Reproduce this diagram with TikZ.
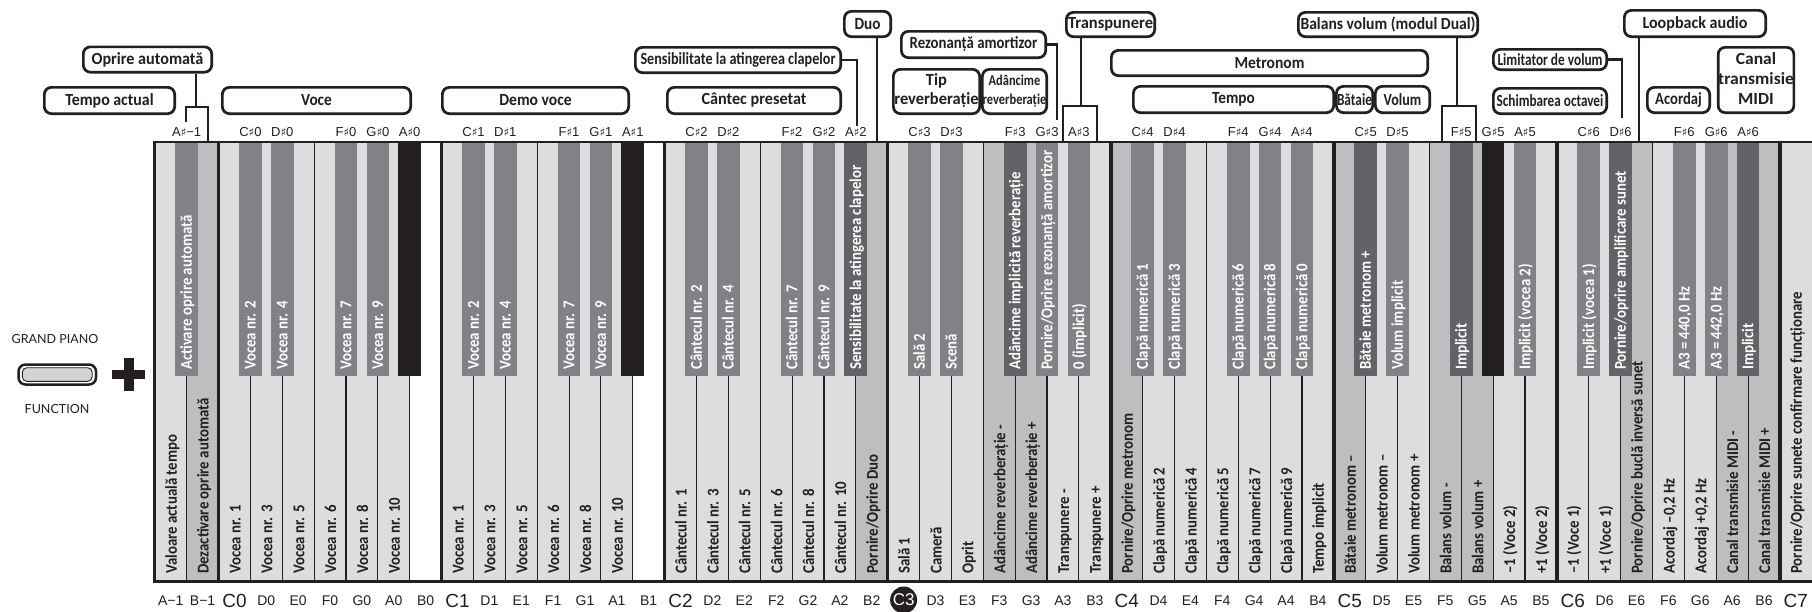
\documentclass[tikz,border=0pt]{standalone}
\usepackage{fontspec}
\usepackage{graphicx}
\setmainfont{Liberation Sans}
\newfontfamily\cf{Carlito}[FakeStretch=0.9]
\newfontfamily\symf{DejaVu Sans}
\newfontfamily\gpf{Lato}
\definecolor{wl}{HTML}{DCDDDE}
\definecolor{wm}{HTML}{BCBEC0}
\definecolor{bm}{HTML}{808285}
\definecolor{bd}{HTML}{626366}
\definecolor{bk}{HTML}{231F20}
\definecolor{btn}{HTML}{D1D3D4}
\newcommand\shp{{\symf\fontsize{11.5}{11.5}\selectfont ♯}}
\newcommand\fw[2]{\resizebox{#1pt}{\height}{#2}}
\newcommand\twol[2]{\begin{tabular}{@{}c@{}}#1\\#2\end{tabular}}
\def\kxo{154.8}
\def\kwd{31.865}
\newcommand\wfill[2]{\fill[#2] ({\kxo+#1*\kwd},142) rectangle ({\kxo+(#1+1)*\kwd},581.5);}
\newcommand\wkey[3]{\wfill{#1}{#2}\node[wtxt] (wt#1) at ({\kxo+(#1+0.5)*\kwd+0.8},574) {#3};}
\newcommand\bfill[2]{\fill[#2] ({\kxo+(#1+1)*\kwd-11.35},142) rectangle ({\kxo+(#1+1)*\kwd+11.35},376);}
\newcommand\bkey[3]{\bfill{#1}{#2}\node[btxt] (bt#1) at ({\kxo+(#1+1)*\kwd},370) {#3};}
\begin{document}
\begin{tikzpicture}[x=1pt,y=-1pt,
 lbl/.style={draw=bk, line width=2.7pt, rounded corners=7pt, inner sep=0pt, align=center, font=\cf\bfseries\fontsize{17}{19}\selectfont, text=bk},
 wtxt/.style={rotate=90, anchor=west, inner sep=0pt, text height=10.6pt, text depth=0pt, font=\cf\bfseries\fontsize{16.5}{16.5}\selectfont, text=bk},
 btxt/.style={wtxt, text=white},
 nlab/.style={anchor=base, inner sep=0pt, font=\fontsize{13}{13}\selectfont, text=bk},
 blab/.style={anchor=base, inner sep=0pt, font=\fontsize{14}{14}\selectfont, text=bk},
 clab/.style={anchor=base, inner sep=0pt, font=\fontsize{19}{19}\selectfont, text=bk},
 conn/.style={line width=2.2pt, draw=bk},
 sep/.style={line width=1.1pt, draw=bk},
 gpl/.style={inner sep=0pt, font=\gpf\fontsize{12.5}{12.5}\selectfont, text=bk}]
\useasboundingbox (0,0) rectangle (1812,611);
\fill[white] (0,0) rectangle (1812,611);
% white keys
\wkey{0}{wl}{Valoare actuală tempo}
\wkey{1}{wm}{Dezactivare oprire automată}
\wkey{2}{wl}{Vocea nr. 1}
\wkey{3}{wl}{Vocea nr. 3}
\wkey{4}{wl}{Vocea nr. 5}
\wkey{5}{wl}{Vocea nr. 6}
\wkey{6}{wl}{Vocea nr. 8}
\wkey{7}{wl}{Vocea nr. 10}
\wfill{8}{white}
\wkey{9}{wl}{Vocea nr. 1}
\wkey{10}{wl}{Vocea nr. 3}
\wkey{11}{wl}{Vocea nr. 5}
\wkey{12}{wl}{Vocea nr. 6}
\wkey{13}{wl}{Vocea nr. 8}
\wkey{14}{wl}{Vocea nr. 10}
\wfill{15}{white}
\wkey{16}{wl}{Cântecul nr. 1}
\wkey{17}{wl}{Cântecul nr. 3}
\wkey{18}{wl}{Cântecul nr. 5}
\wkey{19}{wl}{Cântecul nr. 6}
\wkey{20}{wl}{Cântecul nr. 8}
\wkey{21}{wl}{Cântecul nr. 10}
\wkey{22}{wm}{Pornire/Oprire Duo}
\wkey{23}{wl}{Sală 1}
\wkey{24}{wl}{Cameră}
\wkey{25}{wl}{Oprit}
\wkey{26}{wm}{Adâncime reverberație -}
\wkey{27}{wm}{Adâncime reverberație +}
\wkey{28}{wl}{Transpunere -}
\wkey{29}{wl}{Transpunere +}
\wkey{30}{wm}{Pornire/Oprire metronom}
\wkey{31}{wl}{Clapă numerică 2}
\wkey{32}{wl}{Clapă numerică 4}
\wkey{33}{wl}{Clapă numerică 5}
\wkey{34}{wl}{Clapă numerică 7}
\wkey{35}{wl}{Clapă numerică 9}
\wkey{36}{wl}{Tempo implicit}
\wkey{37}{wm}{Bătaie metronom –}
\wkey{38}{wl}{Volum metronom –}
\wkey{39}{wl}{Volum metronom +}
\wkey{40}{wm}{Balans volum -}
\wkey{41}{wm}{Balans volum +}
\wkey{42}{wl}{–1 (Voce 2)}
\wkey{43}{wl}{+1 (Voce 2)}
\wkey{44}{wl}{–1 (Voce 1)}
\wkey{45}{wl}{+1 (Voce 1)}
\wkey{46}{wm}{Pornire/Oprire buclă inversă sunet}
\wkey{47}{wl}{Acordaj –0,2 Hz}
\wkey{48}{wl}{Acordaj +0,2 Hz}
\wkey{49}{wm}{Canal transmisie MIDI -}
\wkey{50}{wm}{Canal transmisie MIDI +}
\wkey{51}{wl}{Pornire/Oprire sunete confirmare funcționare}
% separators
\foreach \k in {1,...,51} \draw[sep] ({\kxo+\k*\kwd},376) -- ({\kxo+\k*\kwd},581.5);
\foreach \k in {5,12,19,26,33,40,47} \draw[sep] ({\kxo+\k*\kwd},142) -- ({\kxo+\k*\kwd},376);
% black keys
\bkey{0}{bm}{Activare oprire automată}
\bkey{2}{bm}{Vocea nr. 2}
\bkey{3}{bm}{Vocea nr. 4}
\bkey{5}{bm}{Vocea nr. 7}
\bkey{6}{bm}{Vocea nr. 9}
\bfill{7}{bk}
\bkey{9}{bm}{Vocea nr. 2}
\bkey{10}{bm}{Vocea nr. 4}
\bkey{12}{bm}{Vocea nr. 7}
\bkey{13}{bm}{Vocea nr. 9}
\bfill{14}{bk}
\bkey{16}{bm}{Cântecul nr. 2}
\bkey{17}{bm}{Cântecul nr. 4}
\bkey{19}{bm}{Cântecul nr. 7}
\bkey{20}{bm}{Cântecul nr. 9}
\bkey{21}{bd}{Sensibilitate la atingerea clapelor}
\bkey{23}{bm}{Sală 2}
\bkey{24}{bm}{Scenă}
\bkey{26}{bd}{Adâncime implicită reverberație}
\bkey{27}{bm}{Pornire/Oprire rezonanță amortizor}
\bkey{28}{bm}{0 (implicit)}
\bkey{30}{bm}{Clapă numerică 1}
\bkey{31}{bm}{Clapă numerică 3}
\bkey{33}{bm}{Clapă numerică 6}
\bkey{34}{bm}{Clapă numerică 8}
\bkey{35}{bm}{Clapă numerică 0}
\bkey{37}{bd}{Bătaie metronom +}
\bkey{38}{bm}{Volum implicit}
\bkey{40}{bd}{Implicit}
\bfill{41}{bk}
\bkey{42}{bm}{Implicit (vocea 2)}
\bkey{44}{bm}{Implicit (vocea 1)}
\bkey{45}{bd}{Pornire/oprire amplificare sunet}
\bkey{47}{bm}{A3 = 440,0 Hz}
\bkey{48}{bm}{A3 = 442,0 Hz}
\bkey{49}{bd}{Implicit}
% octave lines and border
\foreach \k in {2,9,16,23,30,37,44,51} \draw[line width=3.5pt, bk] ({\kxo+\k*\kwd},142) -- ({\kxo+\k*\kwd},581.5);
\draw[line width=1.5pt, bk] (\kxo,142) -- (1812,142);
\draw[line width=2.2pt, bk] (\kxo,581.5) -- (1812,581.5);
\draw[line width=3pt, bk] (\kxo,141.2) -- (\kxo,582.6);
% note labels above
\node[nlab] (tAm1) at ({\kxo+1*\kwd},136) {A\shp−1};
\foreach \oc in {0,...,6}{\foreach \d/\n in {0/C,1/D,3/F,4/G,5/A}{\node[nlab] (t\n\oc) at ({\kxo+(3+7*\oc+\d)*\kwd},136) {\n\shp\oc};}}
% note labels below
\node[blab] (bAm1) at ({\kxo+0.5*\kwd},605) {A−1};
\node[blab] (bBm1) at ({\kxo+1.5*\kwd},605) {B−1};
\foreach \oc in {0,...,6}{\foreach \d/\n in {1/D,2/E,3/F,4/G,5/A,6/B}{\node[blab] (b\n\oc) at ({\kxo+(2.5+7*\oc+\d)*\kwd},605) {\n\oc};}}
\foreach \oc in {0,1,2,4,5,6}{\node[clab] (bC\oc) at ({\kxo+(2.5+7*\oc)*\kwd},607.5) {C\oc};}
\node[clab] (bC7) at ({\kxo+51.5*\kwd},607.5) {C7};
\node[circle, fill=bk, text=white, minimum size=27pt, inner sep=0pt, font=\fontsize{17}{17}\selectfont] (bC3) at ({\kxo+23.5*\kwd},600) {C3};
% left: button
\node[gpl] (gp) at (55,339.5) {GRAND PIANO};
\node[gpl] (fn) at (57,409.5) {FUNCTION};
\draw[line width=2.5pt, draw=bk, fill=white, rounded corners=7pt] (18.5,364.5) rectangle (96,384.5);
\draw[line width=0.9pt, draw=bk, fill=btn, rounded corners=4.5pt] (22.3,367.7) rectangle (92.2,381.3);
\fill[bk] (112.3,369.8) rectangle (145,379.2);
\fill[bk] (124,357.7) rectangle (133.5,391);
% label boxes
\node[lbl, minimum width=128.3pt, minimum height=25.3pt] (oa) at (147.5,59.5) {\fw{111.7}{Oprire automată}};
\node[lbl, minimum width=130.3pt, minimum height=26.3pt] (ta) at (109.5,100.5) {\fw{88.4}{Tempo actual}};
\node[lbl, minimum width=188.3pt, minimum height=26.3pt] (vo) at (316.5,100.5) {\fw{30.7}{Voce}};
\node[lbl, minimum width=186.3pt, minimum height=26.3pt] (dv) at (535.5,100.5) {\fw{72.3}{Demo voce}};
\node[lbl, minimum width=173.3pt, minimum height=26.3pt] (cp) at (754,100.5) {\fw{105}{Cântec presetat}};
\node[lbl, minimum width=205.3pt, minimum height=25.3pt] (se) at (738,60) {\fw{195}{Sensibilitate la atingerea clapelor}};
\node[lbl, minimum width=46.3pt, minimum height=25.3pt] (du) at (867.5,24) {\fw{26}{Duo}};
\node[lbl, minimum width=144.3pt, minimum height=26.3pt] (rz) at (973.5,44.5) {\fw{127.7}{Rezonanță amortizor}};
\node[lbl, minimum width=86.3pt, minimum height=44.3pt] (tr1) at (936.5,91.5) {\fw{84.3}{\twol{Tip}{reverberație}}};
\node[lbl, minimum width=64.3pt, minimum height=44.3pt, font=\cf\bfseries\fontsize{15}{19}\selectfont] (ar) at (1014.5,91.5) {\fw{63.7}{\twol{Adâncime}{reverberație}}};
\node[lbl, minimum width=88.3pt, minimum height=24.3pt] (tp) at (1110.5,24.5) {\fw{85}{Transpunere}};
\node[lbl, minimum width=316.3pt, minimum height=25.3pt] (mt) at (1269.5,63) {\fw{70}{Metronom}};
\node[lbl, minimum width=200.3pt, minimum height=26.3pt] (te) at (1233.5,99.5) {\fw{42.7}{Tempo}};
\node[lbl, minimum width=36.3pt, minimum height=26.3pt] (bt) at (1354.5,99.5) {\fw{35}{Bătaie}};
\node[lbl, minimum width=54.3pt, minimum height=26.3pt] (vl) at (1402.5,99.5) {\fw{37.7}{Volum}};
\node[lbl, minimum width=179.3pt, minimum height=24.3pt] (ba) at (1388,24.5) {\fw{175}{Balans volum (modul Dual)}};
\node[lbl, minimum width=113.3pt, minimum height=20.3pt] (li) at (1550,59.5) {\fw{105}{Limitator de volum}};
\node[lbl, minimum width=113.3pt, minimum height=25.3pt] (so) at (1550,101) {\fw{106.7}{Schimbarea octavei}};
\node[lbl, minimum width=141.3pt, minimum height=26.3pt] (lb) at (1695,23.5) {\fw{105}{Loopback audio}};
\node[lbl, minimum width=62.3pt, minimum height=25.3pt] (ac) at (1678.5,100) {\fw{46.7}{Acordaj}};
\node[lbl, minimum width=73.3pt, minimum height=65.3pt, font=\cf\bfseries\fontsize{17}{20}\selectfont] (cm) at (1756,80) {\fw{75.7}{\begin{tabular}{@{}c@{}}Canal\\transmisie\\MIDI\end{tabular}}};
% connectors
\coordinate (oaT) at (195.7,106.7);
\coordinate (oaL) at (185.7,121.7);
\coordinate (oaR) at (208.3,142);
\draw[conn] (oa.south -| oaT) -- (oaT);
\draw[conn] (oaL) |- (oaT) -| (oaR);
\coordinate (seE) at (856.7,126);
\draw[conn] (se.east) -| (seE);
\coordinate (duE) at (876.7,142);
\draw[conn] (du.south -| duE) -- (duE);
\coordinate (rzE) at (1056.7,120);
\draw[conn] (rz.east) -| (rzE);
\coordinate (tpT) at (1081,106);
\coordinate (tpL) at (1062.7,142);
\coordinate (tpR) at (1097.3,142);
\draw[conn] (tp.south -| tpT) -- (tpT);
\draw[conn] (tpL) |- (tpT) -| (tpR);
\coordinate (baT) at (1457.3,106);
\coordinate (baL) at (1441.7,142);
\coordinate (baR) at (1476,142);
\draw[conn] (ba.south -| baT) -- (baT);
\draw[conn] (baL) |- (baT) -| (baR);
\coordinate (liE) at (1621.7,118.3);
\draw[conn] (li.east) -| (liE);
\coordinate (lbE) at (1639,142);
\draw[conn] (lb.south -| lbE) -- (lbE);
\end{tikzpicture}
\end{document}
